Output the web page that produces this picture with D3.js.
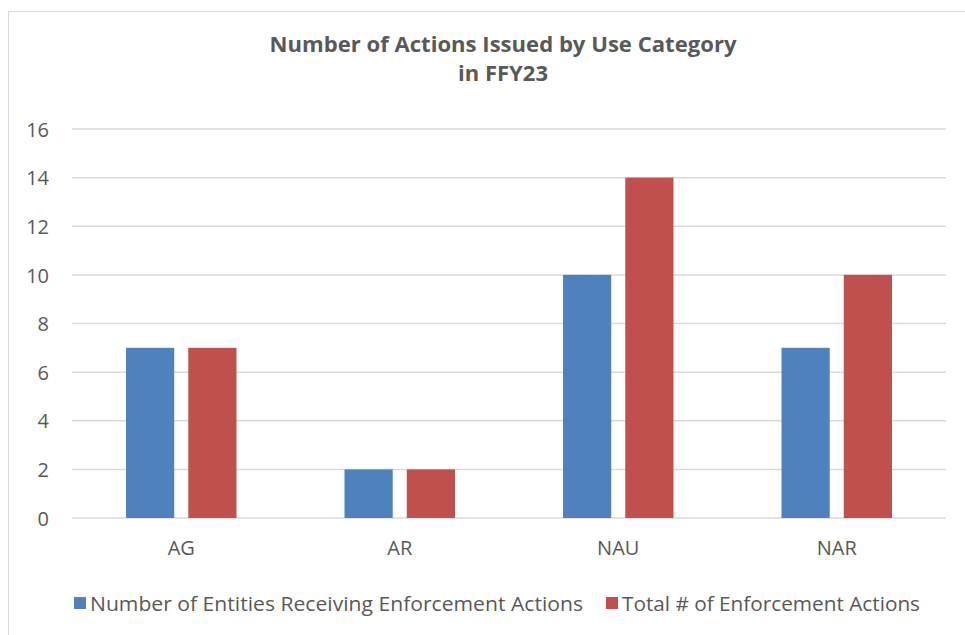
<!DOCTYPE html>
<html><head><meta charset="utf-8">
<script src="https://cdn.jsdelivr.net/npm/d3@7"></script>
<style>body{margin:0;background:#fff}svg{display:block}text{font-family:"Open Sans","Liberation Sans",sans-serif;fill:#595959}</style>
</head><body><svg id="c" width="965" height="635"></svg>
<script>
const categories = ["AG","AR","NAU","NAR"];
const seriesNames = ["Number of Entities Receiving Enforcement Actions","Total # of Enforcement Actions"];
const entities = [7,2,10,7];
const totals = [7,2,14,10];
const yTicks = [0,2,4,6,8,10,12,14,16];
const colors = ["#4F81BD","#C0504D"];

const svg = d3.select("#c");
svg.append("rect").attr("x",8.5).attr("y",11.5).attr("width",980).attr("height",650)
  .attr("fill","#fff").attr("stroke","#d9d9d9").attr("stroke-width",1);

const L=72,R=946,T=129,B=518;
const x = d3.scaleBand().domain(categories).range([L,R]).paddingInner(0).paddingOuter(0);
const x1 = d3.scaleBand().domain([0,1]).range([54, x.bandwidth()-54]).paddingInner(14/62).paddingOuter(0);
const y = d3.scaleLinear().domain([0,16]).range([B,T]);

// gridlines
svg.append("g").selectAll("line").data(yTicks).join("line")
  .attr("x1",L).attr("x2",R).attr("y1",d=>y(d)).attr("y2",d=>y(d))
  .attr("stroke","#d9d9d9").attr("stroke-width",1.5);

const labelStyle = sel => sel.style("font-size","20px").style("fill","#595959")
  .style("font-family","'Open Sans','Liberation Sans',sans-serif");

// y axis labels
const yAxis = d3.axisLeft(y).tickValues(yTicks).tickSize(0).tickPadding(0);
const gy = svg.append("g").attr("transform",`translate(49,0)`).call(yAxis);
gy.select(".domain").remove();
gy.selectAll("text").call(labelStyle).attr("dy","0.36em");

// bars
const data = categories.map((c,i)=>({c, v:[entities[i], totals[i]]}));
const g = svg.append("g");
data.forEach(d=>{
  d.v.forEach((v,j)=>{
    g.append("rect").attr("x",x(d.c)+x1(j)).attr("width",x1.bandwidth())
      .attr("y",y(v)).attr("height",y(0)-y(v)).attr("fill",colors[j]);
  });
});

// x axis labels
const xAxis = d3.axisBottom(x).tickSize(0).tickPadding(0);
const gx = svg.append("g").attr("transform",`translate(0,${B+23})`).call(xAxis);
gx.select(".domain").remove();
gx.selectAll("text").call(labelStyle);

// title
svg.append("text").attr("x",503).attr("y",52).attr("text-anchor","middle")
  .attr("font-size",21).attr("font-weight","bold")
  .attr("textLength",467).attr("lengthAdjust","spacingAndGlyphs")
  .text("Number of Actions Issued by Use Category");
svg.append("text").attr("x",503).attr("y",81).attr("text-anchor","middle")
  .attr("font-size",21).attr("font-weight","bold")
  .attr("textLength",90).attr("lengthAdjust","spacingAndGlyphs")
  .text("in FFY23");

// legend
const legX = [74,606], legW=[493,298];
seriesNames.forEach((s,i)=>{
  svg.append("rect").attr("x",legX[i]).attr("y",597).attr("width",12).attr("height",12).attr("fill",colors[i]);
  svg.append("text").attr("x",legX[i]+16).attr("y",611).attr("font-size",20)
    .attr("textLength",legW[i]).attr("lengthAdjust","spacingAndGlyphs").text(s);
});
</script></body></html>
